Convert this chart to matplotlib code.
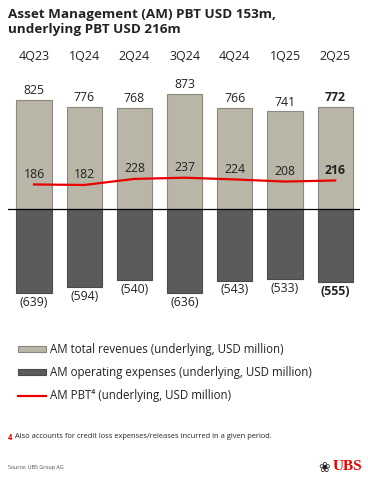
import matplotlib.pyplot as plt
import matplotlib.patches as mpatches
from matplotlib.lines import Line2D

quarters = ['4Q23', '1Q24', '2Q24', '3Q24', '4Q24', '1Q25', '2Q25']
revenues = [825, 776, 768, 873, 766, 741, 772]
expenses = [-639, -594, -540, -636, -543, -533, -555]
pbt = [186, 182, 228, 237, 224, 208, 216]

rev_col = '#b9b5a7'
exp_col = '#5b5b5b'
red = '#e60000'

plt.rcParams['font.family'] = ['Open Sans', 'DejaVu Sans']

W, H = 368, 480
fig = plt.figure(figsize=(W / 100, H / 100), dpi=100)

# axes placed in pixel coordinates
ax_l, ax_r, ax_t, ax_b = 8, 360, 40, 330
ax = fig.add_axes([ax_l / W, 1 - ax_b / H, (ax_r - ax_l) / W, (ax_b - ax_t) / H])
x = list(range(len(quarters)))
ax.bar(x, revenues, width=0.7, color=rev_col, edgecolor='#8a877e', linewidth=0.8)
ax.bar(x, expenses, width=0.7, color=exp_col, edgecolor='#4a4a4a', linewidth=0.8)
ax.plot(x, pbt, color=red, lw=1.6, zorder=3)
ax.axhline(0, color='black', lw=0.9)

ppu = 0.132  # pixels per unit
top_units = (209 - ax_t) / ppu
bot_units = (ax_b - 209) / ppu
ax.set_ylim(-bot_units, top_units)
ax.set_xlim(-26 / 50.2, -26 / 50.2 + (ax_r - ax_l) / 50.2)
ax.axis('off')

n = len(quarters)
for i in range(n):
    bold = 'bold' if i == n - 1 else 'normal'
    ax.text(i, 1158, quarters[i], ha='center', va='center', fontsize=9, color='#222222')
    ax.text(i, revenues[i] + 20, str(revenues[i]), ha='center', va='bottom',
            fontsize=8.8, color='#222222', fontweight=bold)
    ax.text(i, pbt[i] + 28, str(pbt[i]), ha='center', va='bottom',
            fontsize=8.8, color='#222222', fontweight=bold)
    ax.text(i, expenses[i] - 20, '(%d)' % -expenses[i], ha='center', va='top',
            fontsize=8.8, color='#222222', fontweight=bold)

fig.text(8 / W, 1 - 8 / H, 'Asset Management (AM) PBT USD 153m,\nunderlying PBT USD 216m',
         ha='left', va='top', fontsize=9.7, fontweight='bold', color='#222222',
         linespacing=1.15)

handles = [mpatches.Patch(facecolor=rev_col, edgecolor='#8a877e', linewidth=0.8),
           mpatches.Patch(facecolor=exp_col, edgecolor='#4a4a4a', linewidth=0.8),
           Line2D([], [], color=red, lw=1.6)]
labels = ['AM total revenues (underlying, USD million)',
          'AM operating expenses (underlying, USD million)',
          'AM PBT\u2074 (underlying, USD million)']
fig.legend(handles, labels, loc='upper left', bbox_to_anchor=(18 / W, 1 - 343 / H),
           frameon=False, fontsize=8.3, handlelength=2.4, handleheight=0.5,
           handletextpad=0.35, labelspacing=0.88, borderpad=0, borderaxespad=0,
           labelcolor='#222222')

fig.text(8 / W, 1 - 437 / H, '4', ha='left', va='center', fontsize=5.6, color=red,
         fontweight='bold')
fig.text(15 / W, 1 - 437 / H, 'Also accounts for credit loss expenses/releases incurred in a given period.',
         ha='left', va='center', fontsize=5.4, color='#222222')
fig.text(8 / W, 1 - 468 / H, 'Source: UBS Group AG', ha='left', va='center',
         fontsize=3.8, color='#444444')
fig.text(362 / W, 1 - 467 / H, 'UBS', ha='right', va='center', fontsize=11,
         color=red, fontweight='bold', family='Liberation Serif')
fig.text(330 / W, 1 - 468 / H, '\u2740', ha='right', va='center', fontsize=10,
         color='#222222', family='DejaVu Sans')

fig.savefig('out.png', dpi=100)
